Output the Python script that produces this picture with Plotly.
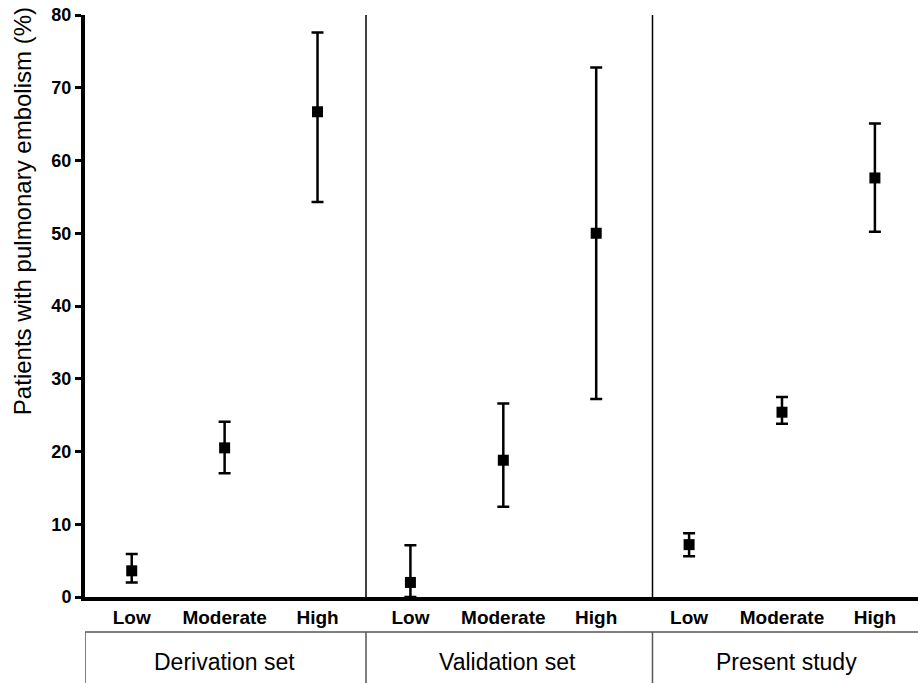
import plotly.graph_objects as go

# ---- data ----
groups = ["Derivation set", "Validation set", "Present study"]
categories = ["Low", "Moderate", "High"]
derivation_pct = [3.6, 20.5, 66.7]
derivation_lo = [2.0, 17.0, 54.3]
derivation_hi = [5.9, 24.1, 77.6]
validation_pct = [2.0, 18.8, 50.0]
validation_lo = [0.0, 12.4, 27.2]
validation_hi = [7.1, 26.6, 72.8]
present_pct = [7.2, 25.4, 57.6]
present_lo = [5.6, 23.8, 50.2]
present_hi = [8.75, 27.5, 65.1]
y_ticks = [0, 10, 20, 30, 40, 50, 60, 70, 80]

vals = derivation_pct + validation_pct + present_pct
los = derivation_lo + validation_lo + present_lo
his = derivation_hi + validation_hi + present_hi
xpos = list(range(len(vals)))
ticktext = categories * 3

FONT = "Arial, Liberation Sans, sans-serif"

fig = go.Figure()
fig.add_trace(go.Scatter(
    x=xpos, y=vals, mode="markers",
    marker=dict(symbol="square", size=11, color="black"),
    error_y=dict(type="data", symmetric=False,
                 array=[h - v for h, v in zip(his, vals)],
                 arrayminus=[v - l for v, l in zip(vals, los)],
                 color="black", thickness=2.5, width=6),
    cliponaxis=False, showlegend=False,
))

sep_x = [2.522, 5.606]
x_left, x_right = -0.503, 8.464
box_top = -0.0601

shapes = []
for sx in sep_x:
    shapes.append(dict(type="line", xref="x", yref="y", x0=sx, x1=sx, y0=0, y1=80,
                       line=dict(color="black", width=1.5)))
# bottom group box
shapes.append(dict(type="line", xref="x", yref="paper", x0=x_left, x1=x_right,
                   y0=box_top, y1=box_top, line=dict(color="#555555", width=1.5)))
for vx in [x_left] + sep_x:
    shapes.append(dict(type="line", xref="x", yref="paper", x0=vx, x1=vx,
                       y0=box_top, y1=-0.2, line=dict(color="#555555", width=1.5)))

group_centers = [1.0, 4.05, 7.05]
annotations = []
for g, c in zip(groups, group_centers):
    annotations.append(dict(x=c, y=-0.111, xref="x", yref="paper", text=g,
                            showarrow=False, font=dict(family=FONT, size=23, color="black"),
                            xanchor="center", yanchor="middle"))
annotations.append(dict(x=0, y=0.663, xref="paper", yref="paper", xshift=-63,
                        text="Patients with pulmonary embolism (%)", textangle=-90,
                        showarrow=False, font=dict(family=FONT, size=24, color="black"),
                        xanchor="center", yanchor="middle"))

fig.update_layout(
    width=918, height=683,
    margin=dict(l=85, r=0, t=15, b=86),
    paper_bgcolor="white", plot_bgcolor="white",
    shapes=shapes, annotations=annotations,
    xaxis=dict(range=[x_left, x_right], tickvals=xpos, ticktext=ticktext,
               showgrid=False, zeroline=False, showline=True, linecolor="black",
               linewidth=4, ticks="",
               tickfont=dict(family=FONT, size=19, color="black", weight="bold")),
    yaxis=dict(range=[0, 80], tickvals=y_ticks, showgrid=False, zeroline=False,
               showline=True, linecolor="black", linewidth=4, ticks="outside",
               ticklen=6, tickwidth=2.5, tickcolor="black",
               tickfont=dict(family=FONT, size=18, color="black", weight="bold")),
)

fig.write_html("out.html", config={"displayModeBar": False},
               post_script="document.body.style.margin='0';document.body.style.overflow='hidden';")
